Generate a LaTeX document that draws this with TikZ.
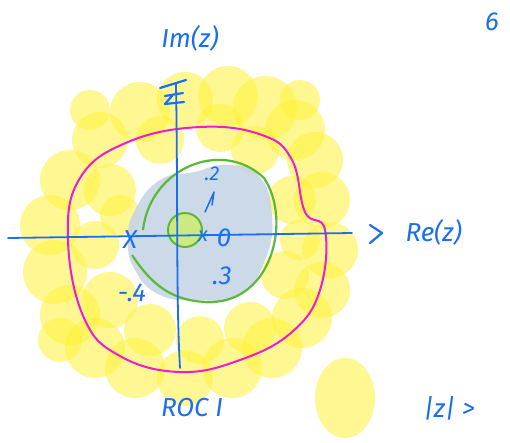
\documentclass[tikz,border=0pt]{standalone}
\usepackage{fontspec}
\setmainfont{Fira Sans}
\begin{document}
\begin{tikzpicture}[x=1pt,y=-1pt,
  ink/.style={draw=penblue,line width=2.2pt,line cap=round,line join=round},
  hand/.style={text=penblue,font=\fontsize{26}{28}\selectfont\itshape},
  small/.style={text=penblue,font=\fontsize{20}{22}\selectfont\itshape},
  yblob/.style={fill=hiyellow,fill opacity=0.55,draw=none},
  ]
\definecolor{penblue}{HTML}{1A6EF0}
\definecolor{hiyellow}{HTML}{FFF23A}
\definecolor{rocgray}{HTML}{C3D3E6}
\definecolor{pengreen}{HTML}{5DB83A}
\definecolor{limefill}{HTML}{CDEB7A}
\definecolor{penmag}{HTML}{F01ACF}
\useasboundingbox (0,0) rectangle (510,442);
\fill[white] (0,0) rectangle (510,442);
% yellow highlighter ring
\foreach \p/\r in {
 {(140,112)}/30,{(185,100)}/28,{(228,96)}/30,{(265,108)}/32,{(295,130)}/30,{(315,160)}/28,
 {(100,140)}/28,{(70,180)}/30,{(50,225)}/30,{(55,272)}/32,{(70,315)}/30,{(95,348)}/30,
 {(135,368)}/30,{(185,378)}/28,{(232,368)}/30,{(272,348)}/30,{(302,318)}/30,
 {(322,200)}/28,{(330,250)}/28,{(322,290)}/28,
 {(110,190)}/26,{(95,245)}/24,{(110,300)}/28,{(150,330)}/26,{(250,328)}/26,
 {(285,275)}/24,{(292,200)}/24,{(255,150)}/24,{(160,140)}/24,{(220,128)}/24,
 {(200,340)}/24,{(120,215)}/20,{(300,240)}/20,{(90,110)}/20,{(300,100)}/20,{(60,340)}/22}{
  \fill[yblob] \p circle (\r);
}
\fill[yblob] (345,398) ellipse (30 and 40);
% ROC gray blob
\fill[rocgray,fill opacity=0.85]
  plot[smooth cycle,tension=0.8] coordinates {(135,210) (160,180) (195,172) (225,165) (258,175) (272,215) (265,260) (240,295) (200,300) (160,295) (135,270) (128,240)};
% magenta contour
\draw[penmag,line width=2pt]
  plot[smooth cycle,tension=0.7] coordinates {(68,240) (80,178) (128,142) (200,127) (262,135) (292,160) (305,212) (325,230) (320,290) (292,332) (240,360) (180,372) (120,356) (84,318)};
% green circles
\draw[pengreen,line width=2.2pt] (143,230) .. controls (150,168) and (222,138) .. (264,178)
  .. controls (292,220) and (272,302) .. (210,302)
  .. controls (170,302) and (150,282) .. (132,255);
\fill[limefill,fill opacity=0.9] (185,230) circle (18);
\draw[pengreen,line width=2pt] (185,230) circle (17);
% axes
\coordinate (xl) at (8,238);
\coordinate (xr) at (352,233);
\coordinate (yt) at (176,84);
\coordinate (yb) at (180,368);
\draw[ink,line width=1.8pt] (xl) -- (xr);
\draw[ink,line width=1.8pt] (yt) .. controls (178,200) and (176,300) .. (yb);
% arrow marks drawn by hand
\draw[ink] (370,225) -- (382,233) -- (370,243);
\draw[ink] (160,88) -- (186,80) (165,96) -- (183,93) (172,96) -- (165,104) -- (184,102);
% labels
\node[hand] (im) at (190,38) {Im(z)};
\node[hand,anchor=west] (re) at (402,232) {Re(z)};
\node[hand] (roc) at (192,408) {ROC I};
\node[hand,anchor=west] (mod) at (420,408) {|z| >};
\node[hand] (six) at (492,22) {6};
\node[hand] (xa) at (130,240) {X};
\node[hand] (q) at (132,293) {-.4};
\node[small] (xb) at (203,236) {x};
\node[hand] (zero) at (224,238) {0};
\node[small] (two) at (212,174) {.2};
\node[hand] (three) at (222,276) {.3};
\draw[ink,line width=1.5pt] (205,212) -- (214,192) -- (212,205);
\end{tikzpicture}
\end{document}
